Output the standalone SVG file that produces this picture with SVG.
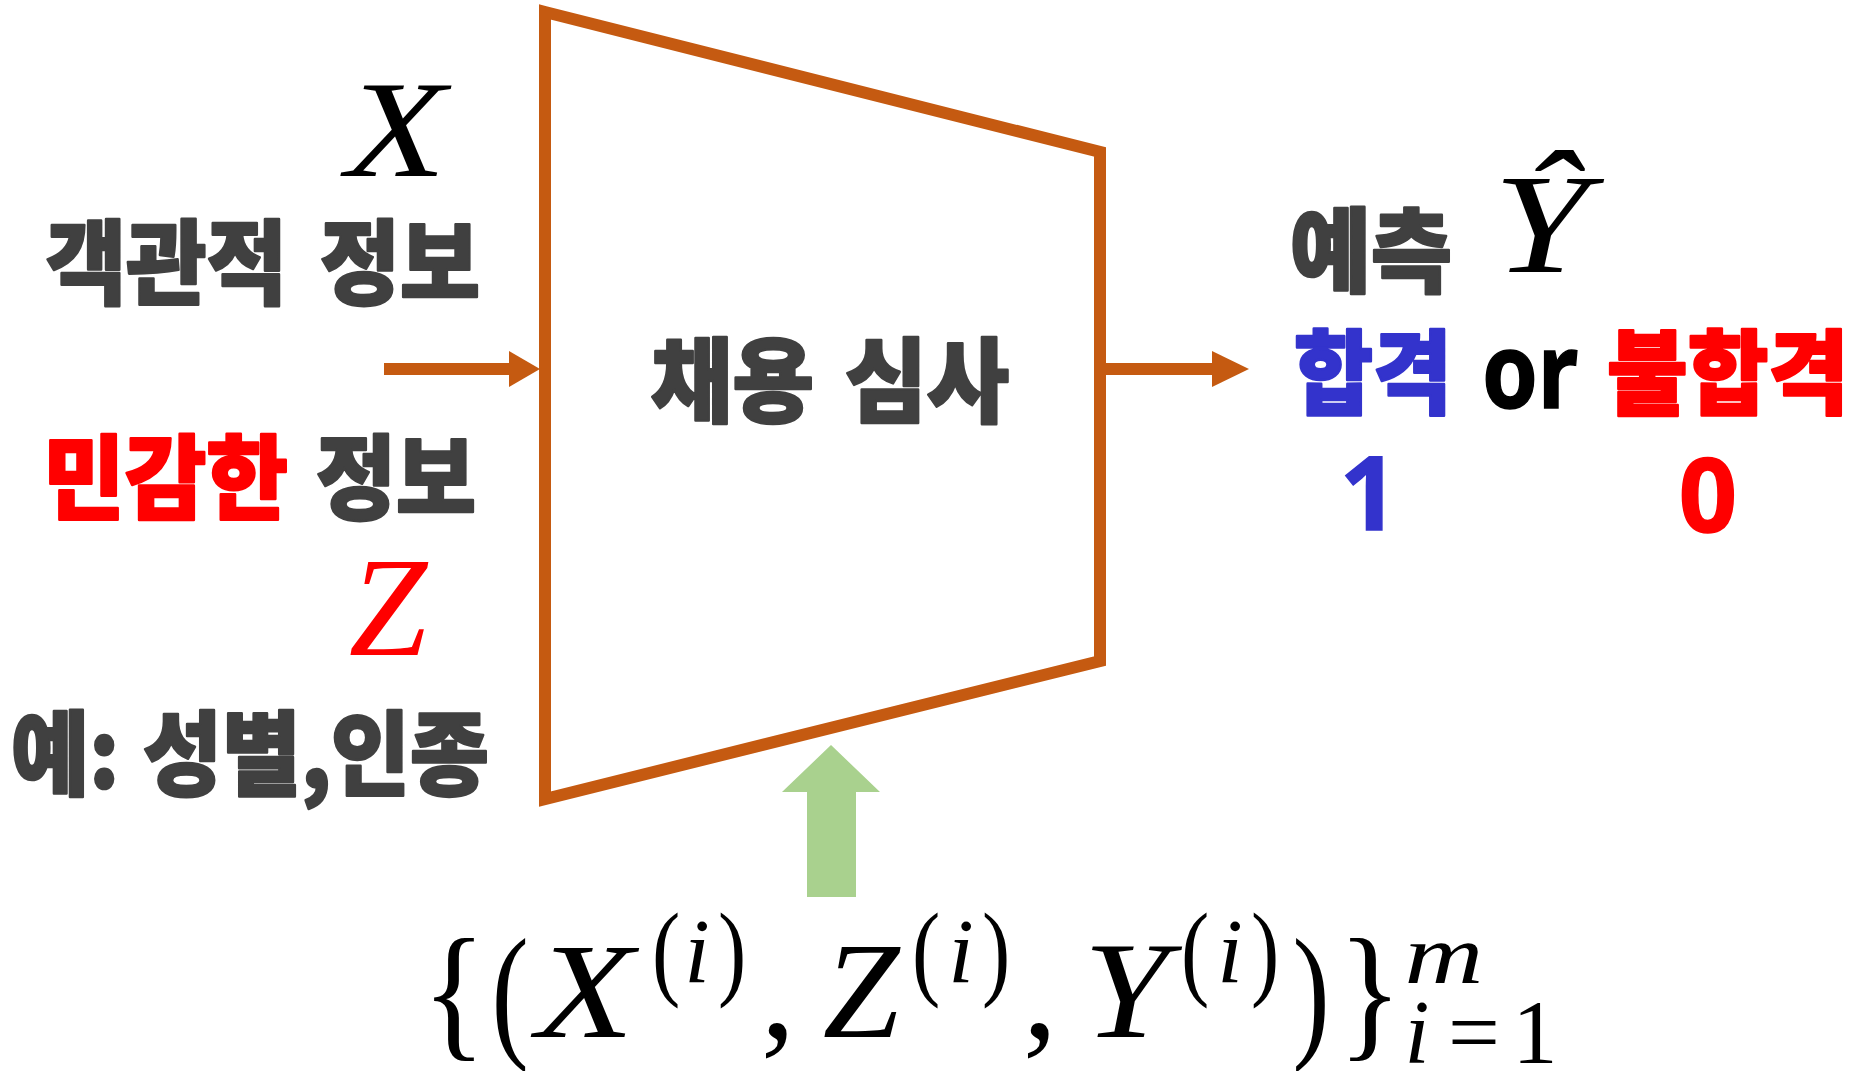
<svg xmlns="http://www.w3.org/2000/svg" width="1862" height="1071" viewBox="0 0 1862 1071">
<style>
.k{font-family:"Noto Sans CJK KR","Noto Sans",sans-serif;font-weight:900;font-size:92px;fill:#404040;stroke:#404040;stroke-width:2.5;stroke-linejoin:round}
.red{fill:#FF0000;stroke:#FF0000}
.blue{fill:#3333CC;stroke:#3333CC}
.m{font-family:"Liberation Serif","DejaVu Serif",serif;font-style:italic;fill:#000}
.r{font-family:"Liberation Serif","DejaVu Serif",serif;fill:#000}
.lat{font-family:"Noto Sans","Liberation Sans",sans-serif;font-weight:700;stroke-width:1.5}
.conn{stroke:#C55A11;stroke-width:12;fill:none}
.head{fill:#C55A11}
</style>
<rect width="1862" height="1071" fill="#FFFFFF"/>
<g id="screening">
<polygon points="545,12 1100,152 1100,661 545,799" fill="none" stroke="#C55A11" stroke-width="12" stroke-miterlimit="10"/>
<text class="k" x="651" y="415" textLength="163" lengthAdjust="spacingAndGlyphs">채용</text>
<text class="k" x="845" y="415" textLength="164" lengthAdjust="spacingAndGlyphs">심사</text>
</g>
<g id="connectors">
<line class="conn" x1="384" y1="369" x2="512" y2="369"/>
<polygon class="head" points="509,351 540,369 509,387"/>
<line class="conn" x1="1100" y1="369" x2="1215" y2="369"/>
<polygon class="head" points="1212,351 1249,369 1212,387"/>
<polygon fill="#A9D18E" points="831,745 880,792 856,792 856,897 807,897 807,792 782,792"/>
</g>
<g id="objective-info">
<text class="m" transform="translate(396,176) scale(1.2,1)" font-size="137" text-anchor="middle">X</text>
<text class="k" x="46" y="297" textLength="241" lengthAdjust="spacingAndGlyphs">객관적</text>
<text class="k" x="320" y="297" textLength="160" lengthAdjust="spacingAndGlyphs">정보</text>
</g>
<g id="sensitive-info">
<text class="k red" x="43" y="512" textLength="245" lengthAdjust="spacingAndGlyphs">민감한</text>
<text class="k" x="316" y="512" textLength="160" lengthAdjust="spacingAndGlyphs">정보</text>
<text class="m" x="388" y="655" font-size="141" text-anchor="middle" style="fill:#FF0000">Z</text>
<text class="k" x="11" y="788" textLength="108" lengthAdjust="spacingAndGlyphs">예:</text>
<text class="k" x="143" y="788" textLength="346" lengthAdjust="spacingAndGlyphs">성별,인종</text>
</g>
<g id="prediction">
<text class="k" x="1290" y="285" textLength="162" lengthAdjust="spacingAndGlyphs">예측</text>
<text class="m" transform="translate(1541,272) scale(1.22,1)" font-size="141" text-anchor="middle">Ŷ</text>
<text class="k blue" x="1294" y="407" textLength="158" lengthAdjust="spacingAndGlyphs">합격</text>
<text class="lat" x="1482" y="408" font-size="104" textLength="96" lengthAdjust="spacingAndGlyphs" style="stroke:#000">or</text>
<text class="k red" x="1607" y="407" textLength="242" lengthAdjust="spacingAndGlyphs">불합격</text>
<text class="lat blue" x="1369" y="530" font-size="102" text-anchor="middle">1</text>
<text class="lat red" x="1708" y="532" font-size="102" text-anchor="middle">0</text>
</g>
<g id="training-data">
<text class="r" transform="translate(454,1041) scale(0.9,1)" font-size="148" text-anchor="middle">{</text>
<text class="r" transform="translate(510,1041) scale(0.75,1)" font-size="149" text-anchor="middle">(</text>
<text class="m" transform="translate(585,1037) scale(1.18,1)" font-size="136" text-anchor="middle">X</text>
<text class="r" transform="translate(666,986) scale(0.8,1)" font-size="106" text-anchor="middle">(</text>
<text class="m" x="697" y="982" font-size="92" text-anchor="middle">i</text>
<text class="r" transform="translate(732,986) scale(0.8,1)" font-size="106" text-anchor="middle">)</text>
<text class="r" x="778" y="1037" font-size="138" text-anchor="middle">,</text>
<text class="m" x="861" y="1037" font-size="138" text-anchor="middle">Z</text>
<text class="r" transform="translate(926,986) scale(0.8,1)" font-size="106" text-anchor="middle">(</text>
<text class="m" x="961" y="982" font-size="92" text-anchor="middle">i</text>
<text class="r" transform="translate(996,986) scale(0.8,1)" font-size="106" text-anchor="middle">)</text>
<text class="r" x="1040" y="1037" font-size="138" text-anchor="middle">,</text>
<text class="m" transform="translate(1126,1037) scale(1.12,1)" font-size="137" text-anchor="middle">Y</text>
<text class="r" transform="translate(1195,986) scale(0.8,1)" font-size="106" text-anchor="middle">(</text>
<text class="m" x="1230" y="982" font-size="92" text-anchor="middle">i</text>
<text class="r" transform="translate(1265,986) scale(0.8,1)" font-size="106" text-anchor="middle">)</text>
<text class="r" transform="translate(1311,1041) scale(0.75,1)" font-size="149" text-anchor="middle">)</text>
<text class="r" transform="translate(1370,1041) scale(0.9,1)" font-size="148" text-anchor="middle">}</text>
<text class="m" transform="translate(1444,983) scale(1.3,1)" font-size="84" text-anchor="middle">m</text>
<text class="m" x="1417" y="1063" font-size="90" text-anchor="middle">i</text>
<text class="r" x="1474" y="1063" font-size="92" text-anchor="middle">=</text>
<text class="r" x="1535" y="1063" font-size="90" text-anchor="middle">1</text>
</g>
</svg>
